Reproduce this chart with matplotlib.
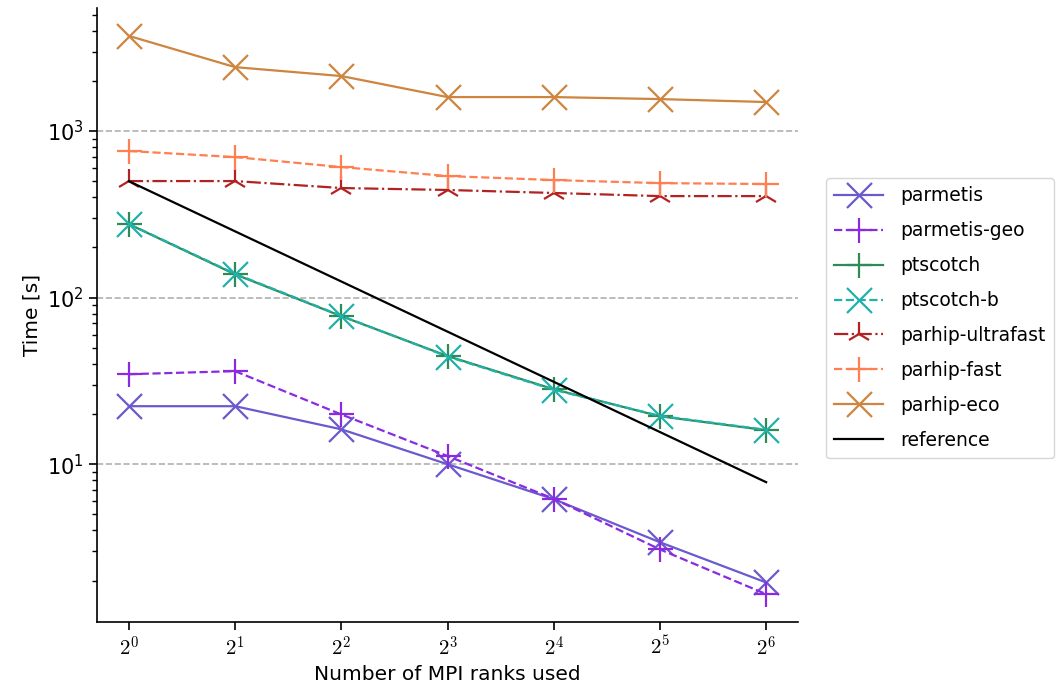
import matplotlib
matplotlib.use("Agg")
import matplotlib.pyplot as plt
from matplotlib.ticker import FixedLocator

ranks = [1, 2, 4, 8, 16, 32, 64]
xtick_labels = [r"$2^{%d}$" % i for i in range(7)]

parmetis = [22.3, 22.3, 16.2, 10.0, 6.17, 3.40, 1.95]
parmetis_geo = [34.7, 36.2, 19.9, 11.2, 6.2, 3.08, 1.66]
ptscotch = [276, 138, 77.4, 44.6, 28.2, 19.4, 16.0]
ptscotch_b = [277, 139, 77.8, 44.3, 28.0, 19.5, 16.1]
parhip_ultrafast = [501, 501, 455, 443, 425, 407, 407]
parhip_fast = [759, 698, 608, 537, 508, 487, 481]
parhip_eco = [3727, 2420, 2140, 1600, 1600, 1556, 1494]
reference = [500, 250, 125, 62.5, 31.25, 15.6, 7.8]

plt.rcParams['mathtext.fontset'] = 'cm'
plt.rcParams['font.family'] = ['DejaVu Sans']

fig = plt.figure(figsize=(10.64, 6.95), dpi=100)
ax = fig.add_axes([0.0912, 0.105, 0.75 - 0.0912, 0.8835])

ms = 18
lw = 1.6
series = [
    ("parmetis", parmetis, "#6a5acd", "-", "x"),
    ("parmetis-geo", parmetis_geo, "#8a2be2", "--", "+"),
    ("ptscotch", ptscotch, "#2e8b57", "-", "+"),
    ("ptscotch-b", ptscotch_b, "#20b2aa", "--", "x"),
    ("parhip-ultrafast", parhip_ultrafast, "#b22222", "-.", "2"),
    ("parhip-fast", parhip_fast, "#ff7f50", "--", "+"),
    ("parhip-eco", parhip_eco, "#cd853f", "-", "x"),
]
for name, vals, col, ls, mk in series:
    ax.plot(ranks, vals, color=col, ls=ls, marker=mk, ms=ms, mew=lw, lw=lw, label=name)
ax.plot(ranks, reference, color="black", lw=lw, label="reference")

ax.set_xscale("log", base=2)
ax.set_yscale("log")
ax.set_xticks(ranks)
ax.set_xticklabels(xtick_labels, fontsize=15)
ax.xaxis.set_minor_locator(FixedLocator([]))
ax.tick_params(axis='y', labelsize=15)
ax.tick_params(axis='both', which='major', length=6, width=1.2)
ax.tick_params(axis='y', which='minor', length=3.5, width=1.0)
ax.yaxis.grid(True, which='major', ls='--', color='#b0b0b0', lw=1.2)
ax.set_axisbelow(True)
for s in ["top", "right"]:
    ax.spines[s].set_visible(False)
for s in ["left", "bottom"]:
    ax.spines[s].set_linewidth(1.2)

ax.set_xlabel("Number of MPI ranks used", fontsize=14.5)
ax.set_ylabel("Time [s]", fontsize=14.5)

leg = ax.legend(loc="center left", bbox_to_anchor=(1.04, 0.495), fontsize=13.5,
                handlelength=2.6, handletextpad=0.9, labelspacing=0.85,
                frameon=True, fancybox=True, edgecolor="#cccccc", borderpad=0.45,
                borderaxespad=0.0)

fig.savefig("out.png", dpi=100)
